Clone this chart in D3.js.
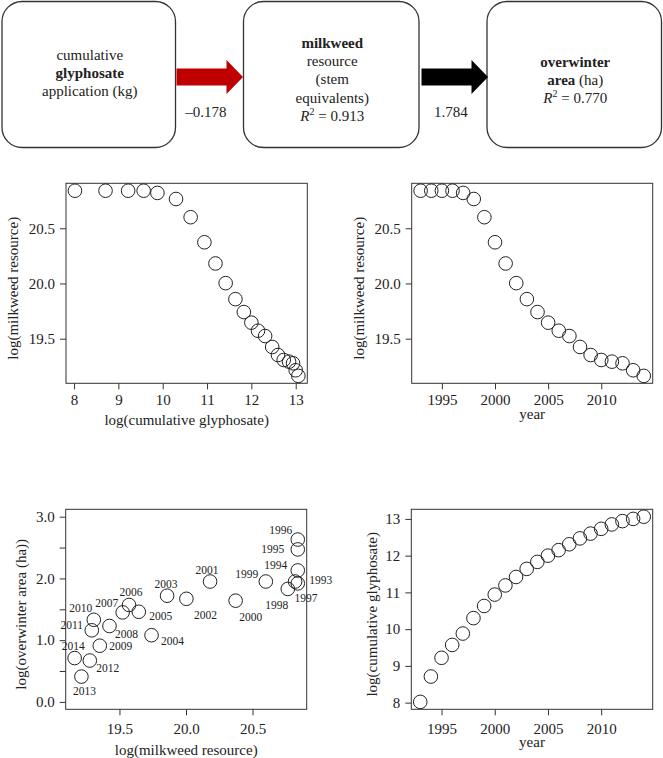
<!DOCTYPE html>
<html>
<head>
<meta charset="utf-8">
<script src="https://cdn.jsdelivr.net/npm/d3@7"></script>
<style>
  body { margin: 0; background: #fff; }
  svg { display: block; }
  svg text { font-family: "Liberation Serif", "Times New Roman", "DejaVu Serif", serif; }
  .tick line { stroke: #333; }
  .tick text { fill: #222; }
</style>
</head>
<body>
<svg width="663" height="758" font-family="Liberation Serif, Times New Roman, serif"></svg>
<script>
// ---- data ----
var years = [1993, 1994, 1995, 1996, 1997, 1998, 1999, 2000, 2001, 2002, 2003,
             2004, 2005, 2006, 2007, 2008, 2009, 2010, 2011, 2012, 2013, 2014];
var glyphosate = [8.02, 8.71, 9.22, 9.57, 9.88, 10.30, 10.63, 10.94, 11.19, 11.42, 11.64,
                  11.83, 12.00, 12.15, 12.31, 12.47, 12.60, 12.73, 12.85, 12.94, 13.00, 13.06];
var milkweed = [20.84, 20.84, 20.84, 20.84, 20.82, 20.765, 20.60, 20.373, 20.181, 20.003, 19.858,
                19.741, 19.645, 19.572, 19.524, 19.425, 19.352, 19.307, 19.292, 19.277, 19.214, 19.163];
var overwinter = [1.92, 2.13, 2.47, 2.63, 1.95, 1.83, 1.95, 1.64, 1.95, 1.67, 1.72,
                  1.08, 1.46, 1.57, 1.45, 1.23, 0.91, 1.33, 1.16, 0.67, 0.41, 0.71];

var pathCoef = [-0.178, 1.784];
var rSquared = [0.913, 0.770];

// year label placement next to each point (px offsets)
var labelOffset = {
  1993: [23, -3], 1994: [-22, -5], 1995: [-25, 0], 1996: [-17, -10], 1997: [11, 16],
  1998: [-11, 16], 1999: [-19, -8], 2000: [15, 16], 2001: [-3, -12], 2002: [19, 16],
  2003: [-1, -12], 2004: [21, 6], 2005: [22, 4], 2006: [2, -13], 2007: [-16, -9],
  2008: [17, 8], 2009: [21, 0], 2010: [-13, -12], 2011: [-20, -5], 2012: [18, 7],
  2013: [3, 14], 2014: [-1.5, -12]
};

var rows = years.map(function(y, i) {
  return {year: y, gly: glyphosate[i], milk: milkweed[i], area: overwinter[i]};
});

var SERIF = "Liberation Serif, Times New Roman, serif";
var svg = d3.select("svg");
var INK = "#222";

/*--------------------------------------------------------------------------------*/
/*  PATH DIAGRAM   */
function fmtCoef(v) { return (v < 0 ? "\u2013" : "") + Math.abs(v).toFixed(3); }

var diagram = svg.append("g").attr("class", "diagram");
var boxes = [
  {x0: 2, x1: 175.5, lines: [[["cumulative", false]], [["glyphosate", true]], [["application (kg)", false]]], y: 60},
  {x0: 243.5, x1: 419, lines: [[["milkweed", true]], [["resource", false]], [["(stem", false]], [["equivalents)", false]], "R0"], y: 48},
  {x0: 487, x1: 661.5, lines: [[["overwinter", true]], [["area", true], [" (ha)", false]], "R1"], y: 67}
];
boxes.forEach(function(b) {
  diagram.append("rect")
    .attr("x", b.x0).attr("y", 1.5)
    .attr("width", b.x1 - b.x0).attr("height", 146)
    .attr("rx", 20).attr("ry", 20)
    .attr("fill", "#fff").attr("stroke", "#333").attr("stroke-width", 1.3);
  var cx = (b.x0 + b.x1) / 2 + 1;
  b.lines.forEach(function(line, i) {
    var t = diagram.append("text")
      .attr("x", cx).attr("y", b.y + i * 18.2)
      .attr("text-anchor", "middle").attr("font-family", SERIF)
      .attr("font-size", 15).attr("fill", INK);
    if (typeof line === "string") {
      var r = rSquared[+line.slice(1)];
      t.append("tspan").attr("font-style", "italic").text("R");
      t.append("tspan").attr("font-size", 10).attr("dy", -6).text("2");
      t.append("tspan").attr("dy", 6).text(" = " + r.toFixed(3));
    } else {
      line.forEach(function(part) {
        t.append("tspan").attr("font-weight", part[1] ? "bold" : null).text(part[0]);
      });
    }
  });
});

var arrows = [
  {x0: 176.5, x1: 243, color: "#c00000", coef: pathCoef[0]},
  {x0: 421.5, x1: 488, color: "#000", coef: pathCoef[1]}
];
arrows.forEach(function(a) {
  var headLen = 16.5, shaft = 8.5, head = 17, cy = 77;
  var xh = a.x1 - headLen;
  var pts = [[a.x0, cy - shaft], [xh, cy - shaft], [xh, cy - head], [a.x1, cy],
             [xh, cy + head], [xh, cy + shaft], [a.x0, cy + shaft]];
  diagram.append("path").attr("d", d3.line()(pts) + "Z").attr("fill", a.color);
  diagram.append("text")
    .attr("x", (a.x0 + a.x1) / 2 - 4).attr("y", 117)
    .attr("text-anchor", "middle").attr("font-family", SERIF)
    .attr("font-size", 15).attr("fill", INK)
    .text(fmtCoef(a.coef));
});

/*--------------------------------------------------------------------------------*/
/*  SCATTER PANELS   */
function rPad(ext) {
  var d = (ext[1] - ext[0]) * 0.04;
  return [ext[0] - d, ext[1] + d];
}

function drawPanel(p) {
  var g = svg.append("g");
  var x = d3.scaleLinear().domain(p.xDomain).range([p.left, p.right]);
  var y = d3.scaleLinear().domain(p.yDomain).range([p.bottom, p.top]);

  var xa = g.append("g").attr("transform", "translate(0," + p.bottom + ")")
    .call(d3.axisBottom(x).tickValues(p.xTicks).tickSize(6).tickPadding(p.xPad).tickFormat(p.xFmt));
  var ya = g.append("g").attr("transform", "translate(" + p.left + ",0)")
    .call(d3.axisLeft(y).tickValues(p.yTicks).tickSize(6).tickPadding(5).tickFormat(p.yFmt));
  [xa, ya].forEach(function(a) {
    a.select(".domain").remove();
    a.attr("font-family", SERIF).attr("font-size", 15);
  });

  g.append("rect")
    .attr("x", p.left).attr("y", p.top)
    .attr("width", p.right - p.left).attr("height", p.bottom - p.top)
    .attr("fill", "none").attr("stroke", "#333").attr("stroke-width", 1);

  g.append("text")
    .attr("x", (p.left + p.right) / 2).attr("y", p.xTitleY)
    .attr("text-anchor", "middle").attr("font-family", SERIF)
    .attr("font-size", 15).attr("fill", INK)
    .text(p.xTitle);
  g.append("text")
    .attr("transform", "translate(" + p.yTitleX + "," + ((p.top + p.bottom) / 2 + 5) + ") rotate(-90)")
    .attr("text-anchor", "middle").attr("dy", "0.35em").attr("font-family", SERIF)
    .attr("font-size", 15).attr("fill", INK)
    .text(p.yTitle);

  g.selectAll("circle").data(rows).enter().append("circle")
    .attr("cx", function(d) { return x(p.xv(d)); })
    .attr("cy", function(d) { return y(p.yv(d)); })
    .attr("r", 6.8)
    .attr("fill", "none").attr("stroke", INK).attr("stroke-width", 1);

  if (p.labels) {
    g.selectAll("text.yr").data(rows).enter().append("text")
      .attr("class", "yr")
      .attr("x", function(d) { return x(p.xv(d)) + labelOffset[d.year][0]; })
      .attr("y", function(d) { return y(p.yv(d)) + labelOffset[d.year][1]; })
      .attr("dy", "0.35em").attr("text-anchor", "middle").attr("font-family", SERIF)
      .attr("font-size", 11.5).attr("fill", INK)
      .text(function(d) { return d.year; });
  }
}

var f1 = d3.format(".1f");
var milkDomain = rPad(d3.extent(milkweed));
var glyDomain = rPad(d3.extent(glyphosate));
var yearDomain = rPad(d3.extent(years));

drawPanel({
  left: 66, right: 307.3, top: 183.3, bottom: 383.3,
  xDomain: glyDomain, yDomain: milkDomain,
  xTicks: [8, 9, 10, 11, 12, 13], yTicks: [19.5, 20.0, 20.5],
  xFmt: d3.format("d"), yFmt: f1, xPad: 5.5,
  xv: function(d) { return d.gly; }, yv: function(d) { return d.milk; },
  xTitle: "log(cumulative glyphosate)", xTitleY: 425,
  yTitle: "log(milkweed resource)", yTitleX: 12.7
});

drawPanel({
  left: 411.7, right: 652.7, top: 183.3, bottom: 383.3,
  xDomain: yearDomain, yDomain: milkDomain,
  xTicks: [1995, 2000, 2005, 2010], yTicks: [19.5, 20.0, 20.5],
  xFmt: d3.format("d"), yFmt: f1, xPad: 5.5,
  xv: function(d) { return d.year; }, yv: function(d) { return d.milk; },
  xTitle: "year", xTitleY: 419,
  yTitle: "log(milkweed resource)", yTitleX: 358.3
});

drawPanel({
  left: 65.7, right: 306.7, top: 509.3, bottom: 709.3,
  xDomain: milkDomain, yDomain: rPad([0, 3]),
  xTicks: [19.5, 20.0, 20.5], yTicks: [0, 0.5, 1, 1.5, 2, 2.5, 3],
  xFmt: f1, yFmt: function(v) { return v % 1 === 0 ? f1(v) : ""; }, xPad: 8.5,
  xv: function(d) { return d.milk; }, yv: function(d) { return d.area; },
  xTitle: "log(milkweed resource)", xTitleY: 755,
  yTitle: "log(overwinter area (ha))", yTitleX: 20.8,
  labels: true
});

drawPanel({
  left: 411.3, right: 652.7, top: 509.3, bottom: 709.3,
  xDomain: yearDomain, yDomain: glyDomain,
  xTicks: [1995, 2000, 2005, 2010], yTicks: [8, 9, 10, 11, 12, 13],
  xFmt: d3.format("d"), yFmt: d3.format("d"), xPad: 8,
  xv: function(d) { return d.year; }, yv: function(d) { return d.gly; },
  xTitle: "year", xTitleY: 747,
  yTitle: "log(cumulative glyphosate)", yTitleX: 372
});
</script>
</body>
</html>
